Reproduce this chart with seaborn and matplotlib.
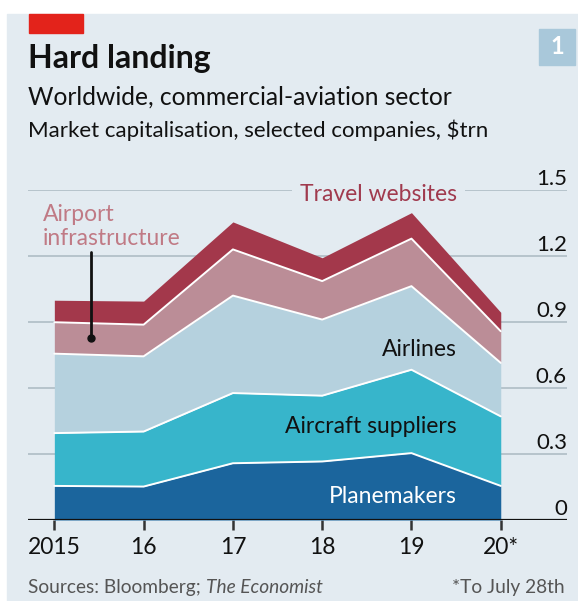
import matplotlib
matplotlib.use("Agg")
import matplotlib.pyplot as plt
import matplotlib.transforms as mtransforms
from matplotlib.patches import Rectangle
import seaborn as sns
import pandas as pd

# data, $trn, each layer's own slice of the stack
years = [2015, 2016, 2017, 2018, 2019, 2020]
year_labels = ["2015", "16", "17", "18", "19", "20*"]
planemakers = [0.155, 0.152, 0.258, 0.266, 0.304, 0.155]
aircraft_suppliers = [0.240, 0.250, 0.319, 0.299, 0.379, 0.316]
airlines = [0.361, 0.342, 0.443, 0.346, 0.380, 0.243]
airport_infrastructure = [0.143, 0.144, 0.210, 0.175, 0.216, 0.144]
travel_websites = [0.100, 0.107, 0.125, 0.106, 0.118, 0.086]
y_ticks = [0, 0.3, 0.6, 0.9, 1.2, 1.5]
y_labels = ["0", "0.3", "0.6", "0.9", "1.2", "1.5"]

layer_names = ["Planemakers", "Aircraft suppliers", "Airlines",
               "Airport infrastructure", "Travel websites"]
layer_colors = ["#1b659d", "#37b5cb", "#b5d1de", "#bb8d97", "#a3384b"]

panel = "#e3ebf1"
W, H = 578, 601

sns.set_theme(style="white")
plt.rcParams["font.family"] = ["Lato", "DejaVu Sans"]

fig = plt.figure(figsize=(W / 100, H / 100), dpi=100, facecolor="white")


def fx(px):
    return px / W


def fy(py):
    return 1 - py / H


# background panel, red tag and the chart number box
fig.patches.append(Rectangle((fx(7), 0), 1, fy(14), transform=fig.transFigure,
                             color=panel, zorder=-5))
fig.patches.append(Rectangle((fx(29), fy(33)), fx(54), 19 / H,
                             transform=fig.transFigure, color="#e3231b", zorder=-4))
fig.patches.append(Rectangle((fx(539), fy(65)), fx(36), 36 / H,
                             transform=fig.transFigure, color="#a9c8da", zorder=-4))
fig.text(fx(557), fy(47), "1", color="white", fontsize=17, fontweight="bold",
         ha="center", va="center")

fig.text(fx(28), fy(68), "Hard landing", fontsize=23, fontweight="bold",
         color="#111111", va="baseline")
fig.text(fx(28), fy(105), "Worldwide, commercial-aviation sector", fontsize=17.7,
         color="#111111", va="baseline")
fig.text(fx(28), fy(137), "Market capitalisation, selected companies, $trn",
         fontsize=16, color="#111111", va="baseline")

# chart area
ax = fig.add_axes([fx(28), fy(520), fx(567 - 28), (520 - 190) / H])
ax.set_facecolor("none")
ax.set_zorder(2)

for t in y_ticks[1:]:
    ax.axhline(t, color="#b3c0c9", lw=1.3, zorder=0)

layers = [planemakers, aircraft_suppliers, airlines,
          airport_infrastructure, travel_websites]
ax.stackplot(years, *layers, colors=layer_colors, linewidth=0, zorder=2)

# white separators along the top of each of the lower four layers
running = [0] * len(years)
sep_rows = []
for name, vals in zip(layer_names[:-1], layers[:-1]):
    running = [a + b for a, b in zip(running, vals)]
    for yr, v in zip(years, running):
        sep_rows.append({"year": yr, "top": v, "layer": name})
sep_df = pd.DataFrame(sep_rows)
sns.lineplot(data=sep_df, x="year", y="top", units="layer", estimator=None,
             color="white", lw=1.4, ax=ax, zorder=3)

ax.axhline(0, color="#111111", lw=1.6, zorder=4)

ax.set_xlim(2014.705, 2020.742)
ax.set_ylim(0, 1.5)
ax.set_xticks(years)
ax.set_xticklabels(year_labels, fontsize=16.5, color="#111111")
ax.set_yticks([])
ax.tick_params(axis="x", bottom=True, length=7.5, width=1.8, color="#333333",
               pad=5)
ax.set_xlabel("")
ax.set_ylabel("")
sns.despine(ax=ax, left=True, bottom=True)

lab_tr = mtransforms.offset_copy(
    mtransforms.blended_transform_factory(ax.transAxes, ax.transData),
    fig=fig, x=0, y=3.6, units="points")
for t, lab in zip(y_ticks, y_labels):
    ax.text(1.0, t, lab, transform=lab_tr, ha="right", va="baseline",
            fontsize=16, color="#111111")

# layer labels
right_x = 2019.51
ax.text(right_x, 1.450, "Travel websites", color="#a03a4e", fontsize=16.5,
        ha="right", va="baseline", zorder=5,
        bbox=dict(facecolor=panel, edgecolor="none", pad=6))
ax.text(right_x, 0.744, "Airlines", color="#111111", fontsize=16.5,
        ha="right", va="baseline", zorder=5)
ax.text(right_x, 0.396, "Aircraft suppliers", color="#111111", fontsize=16.5,
        ha="right", va="baseline", zorder=5)
ax.text(right_x, 0.079, "Planemakers", color="white", fontsize=16.5,
        ha="right", va="baseline", zorder=5)
ax.text(2014.87, 1.248, "Airport\ninfrastructure", color="#c07a85",
        fontsize=16.5, ha="left", va="baseline", linespacing=1.2, zorder=5)
ax.plot([2015.41, 2015.41], [1.216, 0.829], color="#111111", lw=2, zorder=5)
ax.plot([2015.41], [0.829], "o", color="#111111", ms=5, zorder=5)

# footer
src = fig.text(fx(28), fy(593), "Sources: Bloomberg; ", fontsize=13.8,
               color="#555555", va="baseline")
fig.canvas.draw()
bb = src.get_window_extent()
fig.text(bb.x1 / W, fy(593), "The Economist", fontsize=13.8, style="italic",
         color="#555555", va="baseline")
fig.text(fx(565), fy(593), "*To July 28th", fontsize=13.8, color="#555555",
         ha="right", va="baseline")

fig.savefig("out.png", dpi=100, facecolor="white")
